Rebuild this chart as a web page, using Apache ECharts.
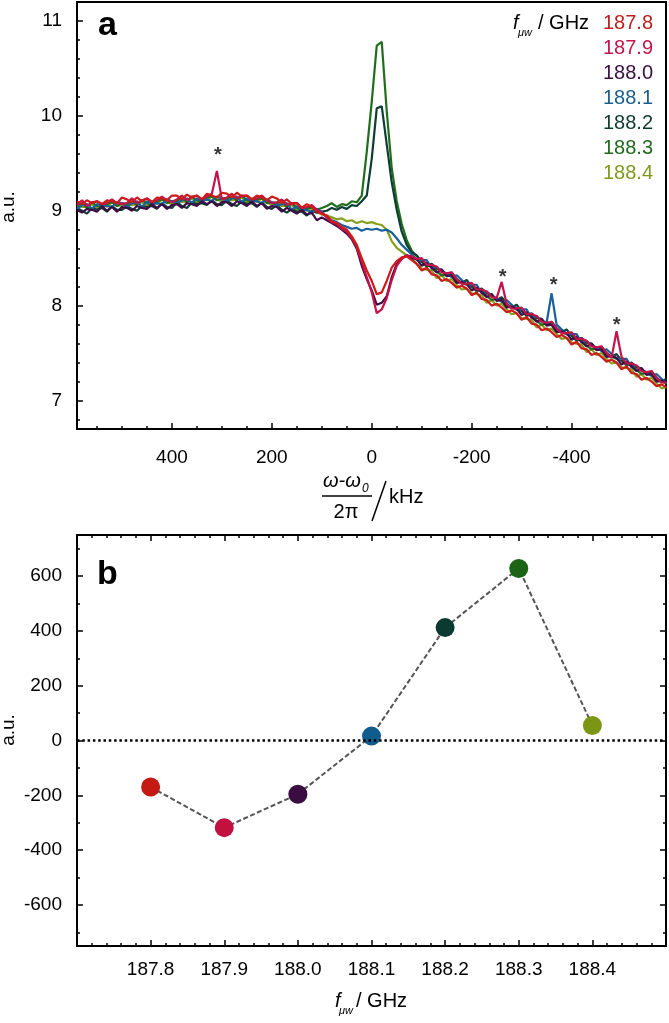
<!DOCTYPE html>
<html><head><meta charset="utf-8">
<script src="https://cdn.jsdelivr.net/npm/echarts@6/dist/echarts.min.js"></script>
<style>html,body{margin:0;padding:0;background:#fff}#c{width:669px;height:1023px}</style>
</head><body><div id="c"></div>
<script>
// ---------- DATA ----------
const freqLabels = ['187.8','187.9','188.0','188.1','188.2','188.3','188.4'];
const freqGHz = [187.8, 187.9, 188.0, 188.1, 188.2, 188.3, 188.4];
const integralValues = [-170, -318, -196, 16, 412, 628, 55];

const offsetKHz = [590,580,570,560,550,540,530,520,510,500,490,480,470,460,450,440,430,420,410,400,390,380,370,360,350,340,330,320,310,300,290,280,270,260,250,240,230,220,210,200,190,180,170,160,150,140,130,120,110,100,
90,80,70,60,50,40,30,20,10,0,-10,-20,-30,-40,-50,-60,-70,-80,
-90,-100,-110,-120,-130,-140,-150,-160,-170,-180,-190,-200,-210,-220,-230,-240,-250,-260,-270,-280,-290,-300,-310,-320,-330,-340,-350,-360,-370,-380,-390,-400,-410,-420,-430,-440,-450,-460,-470,-480,-490,-500,-510,-520,-530,-540,-550,-560,-570,-580,-590];

const trace1878 = [9.10,9.07,9.11,9.08,9.10,9.07,9.11,9.10,9.08,9.14, 9.12,9.09,9.14,9.10,9.13,9.09,9.14,9.13,9.11,9.16, 9.16,9.12,9.17,9.14,9.16,9.12,9.18,9.16,9.14,9.19, 9.18,9.14,9.19,9.15,9.16,9.12,9.16,9.14,9.11,9.15, 9.13,9.08,9.12,9.07,9.08,9.03,9.07,9.04,8.99,8.97,
8.95,8.89,8.87,8.83,8.80,8.73,8.64,8.50,8.37,8.26,8.12,8.14,8.26,8.40,8.47,8.51,8.52,8.48,
8.44,8.37,8.40,8.33,8.32,8.26,8.28,8.24,8.19,8.21, 8.18,8.11,8.14,8.07,8.06,8.00,8.02,7.98,7.93,7.95, 7.92,7.85,7.88,7.81,7.80,7.74,7.76,7.72,7.67,7.69, 7.66,7.59,7.62,7.55,7.54,7.48,7.50,7.46,7.41,7.43, 7.40,7.33,7.36,7.29,7.28,7.22,7.24,7.20,7.15,7.17, 7.14];

const trace1879 = [9.06,9.11,9.05,9.09,9.10,9.07,9.08,9.12,9.08,9.07, 9.08,9.13,9.08,9.11,9.13,9.09,9.11,9.15,9.11,9.09, 9.12,9.16,9.11,9.15,9.16,9.12,9.15,9.18,9.42,9.12, 9.14,9.18,9.13,9.16,9.16,9.12,9.13,9.16,9.11,9.08, 9.09,9.12,9.06,9.08,9.08,9.03,9.04,9.06,9.01,8.98,
8.93,8.88,8.86,8.81,8.78,8.71,8.62,8.46,8.30,8.14,7.92,7.96,8.08,8.27,8.42,8.49,8.53,8.52,
8.49,8.50,8.43,8.43,8.41,8.35,8.34,8.35,8.28,8.23, 8.23,8.24,8.17,8.17,8.15,8.09,8.08,8.25,8.02,7.97, 7.97,7.98,7.91,7.91,7.89,7.83,7.82,7.83,7.76,7.71, 7.71,7.72,7.65,7.65,7.63,7.57,7.56,7.57,7.50,7.45, 7.73,7.46,7.39,7.39,7.37,7.31,7.30,7.31,7.24,7.19, 7.19];

const trace1880 = [9.01,8.98,9.02,9.01,8.99,9.05,9.00,9.04,8.99,9.04, 9.03,9.00,9.05,9.03,9.02,9.07,9.03,9.07,9.02,9.06, 9.07,9.03,9.08,9.07,9.05,9.10,9.07,9.10,9.05,9.09, 9.09,9.05,9.10,9.08,9.05,9.10,9.05,9.08,9.02,9.05, 9.04,8.99,9.03,9.00,8.97,9.01,8.96,8.98,8.90,8.93,
8.90,8.87,8.84,8.80,8.76,8.70,8.60,8.42,8.28,8.16,8.01,8.03,8.10,8.30,8.44,8.50,8.53,8.50,
8.49,8.42,8.45,8.40,8.35,8.38,8.31,8.32,8.24,8.25, 8.23,8.16,8.19,8.14,8.09,8.12,8.05,8.06,7.98,7.99, 7.97,7.90,7.93,7.88,7.83,7.86,7.79,7.80,7.72,7.73, 7.71,7.64,7.67,7.62,7.57,7.60,7.53,7.54,7.46,7.47, 7.45,7.38,7.41,7.36,7.31,7.34,7.27,7.28,7.20,7.21, 7.19];

const trace1881 = [9.02,9.06,9.07,9.02,9.07,9.05,9.05,9.04,9.09,9.08, 9.04,9.08,9.10,9.04,9.10,9.07,9.08,9.07,9.12,9.10, 9.08,9.11,9.13,9.08,9.13,9.10,9.12,9.10,9.15,9.13, 9.10,9.13,9.15,9.09,9.13,9.10,9.10,9.08,9.12,9.09, 9.05,9.07,9.08,9.01,9.05,9.01,9.01,8.98,9.02,8.99,
8.93,8.90,8.88,8.85,8.83,8.81,8.82,8.79,8.81,8.80,8.81,8.79,8.80,8.77,8.71,8.64,8.59,8.54,
8.48,8.48,8.48,8.39,8.41,8.36,8.34,8.30,8.32,8.27, 8.22,8.22,8.22,8.13,8.15,8.10,8.08,8.04,8.06,8.01, 7.96,7.96,7.96,7.87,7.89,7.84,7.82,8.13,7.80,7.75, 7.70,7.70,7.70,7.61,7.63,7.58,7.56,7.52,7.54,7.49, 7.44,7.44,7.44,7.35,7.37,7.32,7.30,7.26,7.28,7.23, 7.18];

const trace1882 = [9.03,9.00,8.97,9.03,9.01,9.03,8.99,9.05,9.01,9.01, 9.05,9.02,9.00,9.05,9.04,9.05,9.02,9.08,9.04,9.03, 9.09,9.05,9.03,9.09,9.07,9.08,9.06,9.11,9.07,9.06, 9.11,9.07,9.05,9.10,9.07,9.08,9.04,9.09,9.04,9.02, 9.06,9.01,8.98,9.02,8.99,8.99,8.95,9.00,8.98,8.99,
9.00,9.03,9.01,9.04,9.02,9.06,9.05,9.10,9.16,9.55,10.08,10.10,9.70,9.30,9.01,8.78,8.64,8.56,
8.53,8.46,8.42,8.44,8.39,8.38,8.32,8.35,8.28,8.24, 8.27,8.20,8.16,8.18,8.13,8.12,8.06,8.09,8.02,7.98, 8.01,7.94,7.90,7.92,7.87,7.86,7.80,7.83,7.76,7.72, 7.75,7.68,7.64,7.66,7.61,7.60,7.54,7.57,7.50,7.46, 7.49,7.42,7.38,7.40,7.35,7.34,7.28,7.31,7.24,7.20, 7.23];

const trace1883 = [9.05,9.08,9.03,9.09,9.05,9.04,9.07,9.09,9.05,9.08, 9.07,9.10,9.06,9.11,9.08,9.06,9.10,9.12,9.08,9.10, 9.11,9.13,9.09,9.15,9.11,9.09,9.14,9.15,9.11,9.13, 9.13,9.15,9.11,9.16,9.11,9.09,9.12,9.13,9.08,9.09, 9.08,9.09,9.04,9.08,9.03,9.00,9.03,9.03,9.01,9.03,
9.05,9.08,9.04,9.07,9.06,9.10,9.09,9.16,9.62,10.15,10.74,10.78,10.05,9.45,9.10,8.86,8.69,8.58,
8.52,8.47,8.41,8.43,8.36,8.32,8.33,8.32,8.25,8.24, 8.22,8.21,8.15,8.17,8.10,8.06,8.07,8.06,7.99,7.98, 7.96,7.95,7.89,7.91,7.84,7.80,7.81,7.80,7.73,7.72, 7.70,7.69,7.63,7.65,7.58,7.54,7.55,7.54,7.47,7.46, 7.44,7.43,7.37,7.39,7.32,7.28,7.29,7.28,7.21,7.20, 7.18];

const trace1884 = [9.05,9.04,9.04,9.07,9.02,9.08,9.04,9.09,9.06,9.05, 9.07,9.06,9.07,9.09,9.05,9.10,9.07,9.12,9.09,9.07, 9.11,9.09,9.10,9.13,9.08,9.13,9.11,9.15,9.12,9.10, 9.13,9.11,9.12,9.14,9.08,9.13,9.09,9.13,9.09,9.06, 9.08,9.05,9.05,9.06,9.00,9.04,9.00,9.03,8.99,8.96,
8.95,8.93,8.91,8.92,8.89,8.90,8.87,8.89,8.87,8.88,8.86,8.85,8.80,8.68,8.61,8.57,8.53,8.50,
8.44,8.39,8.38,8.37,8.29,8.32,8.26,8.28,8.22,8.17, 8.18,8.13,8.12,8.11,8.03,8.06,8.00,8.02,7.96,7.91, 7.92,7.87,7.86,7.85,7.77,7.80,7.74,7.76,7.70,7.65, 7.66,7.61,7.60,7.59,7.51,7.54,7.48,7.50,7.44,7.39, 7.40,7.35,7.34,7.33,7.25,7.28,7.22,7.24,7.18,7.13, 7.14];

// asterisks marking spurious lines
const starX = [308, -262, -364, -490];
const starY = [9.63, 8.35, 8.27, 7.84];

// ---------- STYLE ----------
const lineColors  = ['#cf1a1a', '#c4124a', '#3d0d47', '#17609a', '#0d3d33', '#1e6e1c', '#85a01c'];
const labelColors = ['#c01d1d', '#c2164a', '#3a0f40', '#1a5d8f', '#0e3a30', '#21691f', '#7e9a1e'];
const dotColors   = ['#c51a13', '#c2103f', '#3b0c42', '#0f5c8d', '#0b3a31', '#1b6415', '#7b9615'];
const traces = [trace1878, trace1879, trace1880, trace1881, trace1882, trace1883, trace1884];
const FONT = '"Liberation Sans", Arial, Helvetica, sans-serif';

function tick(len) { return { show: true, inside: true, length: len, lineStyle: { color: '#000', width: 1.5 } }; }
function axisBase(extra) {
  return Object.assign({
    type: 'value', axisLine: { show: false, onZero: false }, splitLine: { show: false },
    axisLabel: { show: false }, axisTick: tick(3)
  }, extra);
}
const lbl = (margin, formatter) => ({ show: true, margin: margin, fontSize: 19, color: '#000', fontFamily: FONT, formatter: formatter });

const xAxes = [
  axisBase({ gridIndex: 0, min: -589, max: 590, inverse: true, splitNumber: 5, position: 'bottom', axisTick: tick(6),
    axisLabel: lbl(19, v => Math.abs(v) > 500 ? '' : String(Math.round(v))) }),
  axisBase({ gridIndex: 0, min: -589, max: 590, inverse: true, splitNumber: 24, position: 'bottom' }),
  axisBase({ gridIndex: 1, min: 187.7, max: 188.5, splitNumber: 8, position: 'bottom', axisTick: tick(6),
    axisLabel: lbl(14, v => (v < 187.75 || v > 188.45) ? '' : v.toFixed(1)) }),
  axisBase({ gridIndex: 1, min: 187.7, max: 188.5, splitNumber: 40, position: 'bottom' }),
  axisBase({ gridIndex: 1, min: 187.7, max: 188.5, splitNumber: 8, position: 'top', axisTick: tick(6) }),
  axisBase({ gridIndex: 1, min: 187.7, max: 188.5, splitNumber: 40, position: 'top' })
];
const yAxes = [
  axisBase({ gridIndex: 0, min: 6.7, max: 11.2, splitNumber: 5, position: 'left', axisTick: tick(6),
    axisLabel: lbl(15, v => Math.abs(v - Math.round(v)) < 1e-6 ? String(Math.round(v)) : '') }),
  axisBase({ gridIndex: 0, min: 6.7, max: 11.2, splitNumber: 22, position: 'left' }),
  axisBase({ gridIndex: 1, min: -750, max: 750, splitNumber: 7, position: 'left', axisTick: tick(6),
    axisLabel: lbl(15, v => Math.abs(v) > 700 ? '' : String(Math.round(v))) }),
  axisBase({ gridIndex: 1, min: -750, max: 750, splitNumber: 15, position: 'left' }),
  axisBase({ gridIndex: 1, min: -750, max: 750, splitNumber: 7, position: 'right', axisTick: tick(6) }),
  axisBase({ gridIndex: 1, min: -750, max: 750, splitNumber: 15, position: 'right' })
];

const series = [];
const drawOrder = [6, 5, 4, 3, 2, 1, 0];
drawOrder.forEach(k => {
  series.push({
    type: 'line', name: freqLabels[k], xAxisIndex: 0, yAxisIndex: 0,
    data: offsetKHz.map((x, i) => [x, traces[k][i]]),
    showSymbol: false, symbol: 'none', animation: false,
    lineStyle: { color: lineColors[k], width: 2.2 }
  });
});
series.push({
  type: 'scatter', xAxisIndex: 0, yAxisIndex: 0, animation: false,
  data: starX.map((x, i) => [x, starY[i]]), symbolSize: 1, itemStyle: { color: 'rgba(0,0,0,0)' },
  label: { show: true, formatter: '*', position: 'inside', fontSize: 20, fontWeight: 'bold', color: '#000', fontFamily: FONT, offset: [0, 5] }
});
series.push({
  type: 'line', xAxisIndex: 2, yAxisIndex: 2, animation: false,
  data: freqGHz.map((f, i) => ({ value: [f, integralValues[i]], itemStyle: { color: dotColors[i] } })),
  symbol: 'circle', symbolSize: 19, showSymbol: true,
  lineStyle: { color: '#555', width: 2, type: [5, 2.5] },
  markLine: {
    silent: true, symbol: ['none', 'none'], label: { show: false }, animation: false,
    lineStyle: { color: '#000', width: 2.5, type: [2.5, 2.8] },
    data: [{ yAxis: 0 }]
  }
});

// ---------- GRAPHIC TEXT ----------
const g = [];
function txt(text, x, y, font, fill, align, rot) {
  g.push({ type: 'text', x: x, y: y, rotation: rot || 0, z: 100,
    style: { text: text, font: font, fill: fill || '#000', textAlign: align || 'left', textVerticalAlign: 'middle' } });
}
txt('a', 98, 26, 'bold 34px ' + FONT);
txt('b', 97, 575, 'bold 34px ' + FONT);
txt('a.u.', 9, 207, '19px ' + FONT, '#000', 'center', Math.PI / 2);
txt('a.u.', 9, 730, '19px ' + FONT, '#000', 'center', Math.PI / 2);
// legend header
txt('f', 513, 23, 'italic 20px ' + FONT);
txt('μw', 518, 33, 'italic 11px ' + FONT);
txt('/ GHz', 538, 23, '20px ' + FONT);
freqLabels.forEach((s, i) => txt(s, 603, 23 + 25 * i, '20px ' + FONT, labelColors[i]));
// top x title (fraction)
txt('ω-ω', 323, 481, 'italic 20px ' + FONT);
txt('0', 362, 489, 'italic 12px ' + FONT);
g.push({ type: 'line', z: 100, shape: { x1: 322, y1: 496, x2: 372, y2: 496 }, style: { stroke: '#000', lineWidth: 1.5 } });
txt('2π', 346, 512, '20px ' + FONT, '#000', 'center');
g.push({ type: 'line', z: 100, shape: { x1: 386, y1: 481, x2: 372, y2: 521 }, style: { stroke: '#000', lineWidth: 1.5 } });
txt('kHz', 389, 497, '20px ' + FONT);
// bottom x title
txt('f', 335, 1001, 'italic 20px ' + FONT);
txt('μw', 339, 1011, 'italic 11px ' + FONT);
txt('/ GHz', 356, 1001, '20px ' + FONT);

const chart = echarts.init(document.getElementById('c'), null, { renderer: 'canvas' });
chart.setOption({
  backgroundColor: '#fff',
  animation: false,
  grid: [
    { left: 77, top: 2, width: 590, height: 427, show: true, borderColor: '#000', borderWidth: 2, containLabel: false },
    { left: 77, top: 535, width: 590, height: 411, show: true, borderColor: '#000', borderWidth: 2, containLabel: false }
  ],
  xAxis: xAxes,
  yAxis: yAxes,
  series: series,
  graphic: g
});
</script>
</body></html>
